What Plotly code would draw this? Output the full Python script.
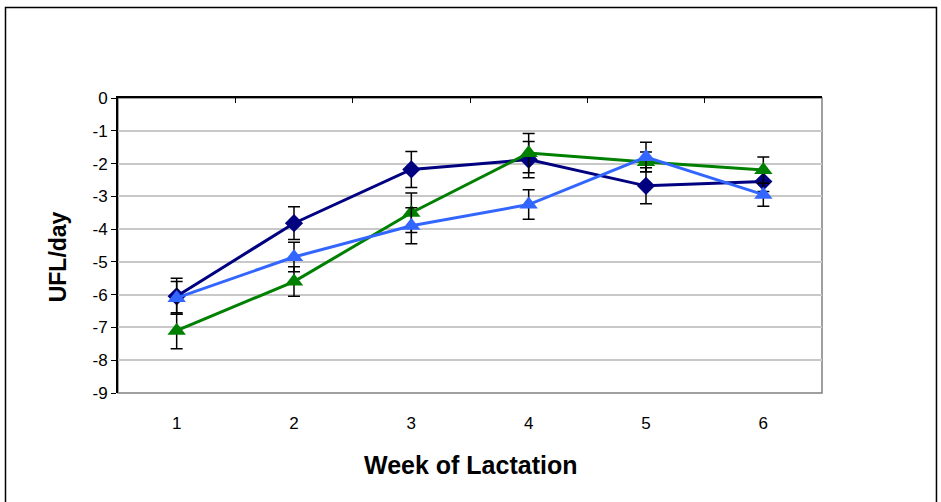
import plotly.graph_objects as go

# Energy balance (UFL/day) by week of lactation, three groups
weeks = [1, 2, 3, 4, 5, 6]
week_labels = ["1", "2", "3", "4", "5", "6"]

navy_vals = [-6.05, -3.82, -2.18, -1.88, -2.68, -2.55]
navy_err = [0.55, 0.50, 0.55, 0.55, 0.55, 0.30]

green_vals = [-7.10, -5.60, -3.50, -1.68, -1.95, -2.20]
green_err = [0.55, 0.45, 0.60, 0.60, 0.30, 0.40]

blue_vals = [-6.10, -4.85, -3.90, -3.25, -1.80, -2.95]
blue_err = [0.50, 0.45, 0.55, 0.45, 0.45, 0.35]

y_ticks = [0, -1, -2, -3, -4, -5, -6, -7, -8, -9]
y_tick_text = [str(v) for v in y_ticks]

FONT = "Liberation Sans, Arial, sans-serif"

series = [
    (navy_vals, navy_err, "#000080", "diamond", 14),
    (green_vals, green_err, "#008000", "triangle-up", 16),
    (blue_vals, blue_err, "#3366FF", "triangle-up", 16),
]

fig = go.Figure()
for vals, err, color, symbol, size in series:
    fig.add_trace(go.Scatter(
        x=weeks, y=vals, mode="lines+markers",
        line=dict(color=color, width=3),
        marker=dict(color=color, symbol=symbol, size=size),
        error_y=dict(type="data", array=err, color="black", thickness=1.5, width=6),
        showlegend=False, cliponaxis=False,
    ))

# invisible trace on the top axis so its ticks render
fig.add_trace(go.Scatter(x=[0.5, 6.5], y=[0, 0], xaxis="x2", mode="markers",
                         marker=dict(opacity=0), showlegend=False, hoverinfo="skip"))

fig.update_layout(
    width=941, height=502,
    margin=dict(l=118, r=119, t=98, b=109),
    paper_bgcolor="white", plot_bgcolor="white",
    font=dict(family=FONT, size=17, color="black"),
    xaxis=dict(
        range=[0.5, 6.5], tickvals=weeks, ticktext=week_labels,
        showgrid=False, zeroline=False, showline=False, ticks="",
        ticklabelstandoff=18, tickfont=dict(family=FONT, size=17),
    ),
    xaxis2=dict(
        overlaying="x", side="top", range=[0.5, 6.5],
        tickvals=[0.5, 1.5, 2.5, 3.5, 4.5, 5.5, 6.5],
        showticklabels=False, ticks="inside", ticklen=5, tickcolor="black",
        showline=True, linecolor="black", linewidth=2,
        showgrid=False, zeroline=False,
    ),
    yaxis=dict(
        range=[-9, 0], tickvals=y_ticks, ticktext=y_tick_text,
        showgrid=True, gridcolor="#c8c8c8", gridwidth=1.5, zeroline=False,
        showline=True, linecolor="black", linewidth=2,
        ticks="outside", ticklen=5, tickcolor="black",
        tickfont=dict(family=FONT, size=17),
    ),
    shapes=[
        # plot area frame (right and bottom edges)
        dict(type="rect", xref="paper", yref="paper", x0=0, x1=1, y0=0, y1=1,
             line=dict(color="#808080", width=1.5), layer="below"),
        # outer chart border
        dict(type="rect", xref="paper", yref="paper",
             x0=-0.1598, x1=1.1626, y0=-0.5, y1=1.3068,
             line=dict(color="black", width=1.5)),
    ],
    annotations=[
        dict(text="<b>Week of Lactation</b>", xref="paper", yref="paper",
             x=0.5, y=-0.244, xanchor="center", yanchor="middle",
             showarrow=False, font=dict(family=FONT, size=25)),
        dict(text="<b>UFL/day</b>", xref="paper", yref="paper",
             x=-0.0852, y=0.46, xanchor="center", yanchor="middle", textangle=-90,
             showarrow=False, font=dict(family=FONT, size=23)),
    ],
)

fig.write_html("out.html")
